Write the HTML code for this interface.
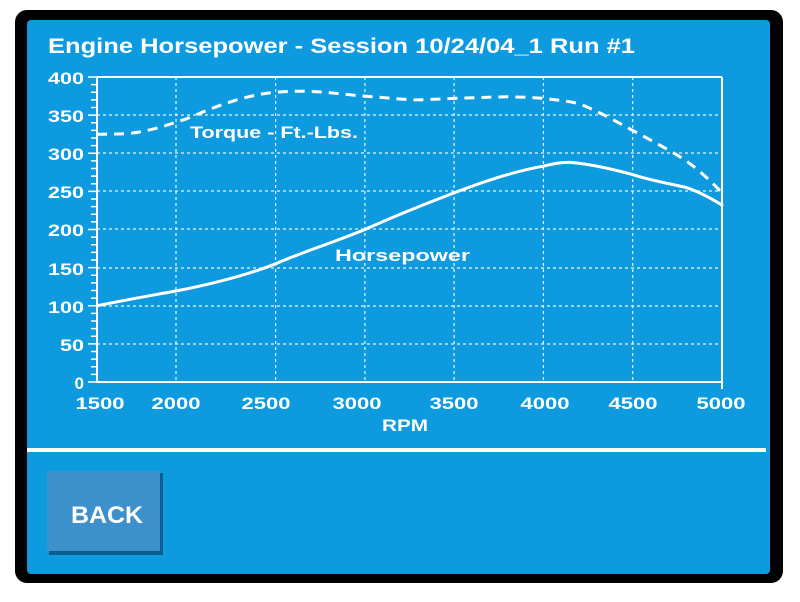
<!DOCTYPE html>
<html><head><meta charset="utf-8"><style>
html,body{margin:0;padding:0;background:#fff;width:800px;height:602px;overflow:hidden}
svg{display:block}
text{font-family:"Liberation Sans",Arial,sans-serif;font-weight:bold;fill:#fff}
</style></head><body>
<svg width="800" height="602" viewBox="0 0 800 602">
<rect x="15" y="10" width="768" height="573" rx="12" fill="#000"/>
<rect x="27" y="20" width="743" height="554" rx="4" fill="#0d9ade"/>
<text x="48" y="53" font-size="21" textLength="587" lengthAdjust="spacingAndGlyphs">Engine Horsepower - Session 10/24/04_1 Run #1</text>
<g stroke="#fff" stroke-width="1.2" stroke-dasharray="3,3" fill="none" opacity="0.9">
<line x1="97" y1="115" x2="722" y2="115"/><line x1="97" y1="153" x2="722" y2="153"/>
<line x1="97" y1="191" x2="722" y2="191"/><line x1="97" y1="229" x2="722" y2="229"/>
<line x1="97" y1="268" x2="722" y2="268"/><line x1="97" y1="306" x2="722" y2="306"/>
<line x1="97" y1="344" x2="722" y2="344"/>
<line x1="176" y1="77" x2="176" y2="382"/><line x1="275.6" y1="77" x2="275.6" y2="382"/>
<line x1="364.9" y1="77" x2="364.9" y2="382"/><line x1="454.1" y1="77" x2="454.1" y2="382"/>
<line x1="543.4" y1="77" x2="543.4" y2="382"/><line x1="632.7" y1="77" x2="632.7" y2="382"/>
</g>
<g stroke="#fff" stroke-width="2" fill="none">
<line x1="97" y1="77" x2="722" y2="77"/>
<line x1="97" y1="77" x2="97" y2="383"/>
<line x1="96" y1="382" x2="723" y2="382"/>
<line x1="722" y1="77" x2="722" y2="389"/>
</g>
<g stroke="#fff" stroke-width="1.5" id="ticks"></g>
<g fill="none" stroke="#fff" stroke-width="3" stroke-linejoin="round" stroke-linecap="round">
<path d="M97,305.75 C130,299 160,294 186.3,289 C215,283 250,274 275.6,263.8 C305,251 335,242 364.9,229.5 C395,216 425,204 454.1,192.9 C485,181 515,171 543.4,166.2 C555,163 562,162 570.2,162.4 C590,164 612,169 632.7,174.6 C652,181 672,184 686.3,187.6 C700,192 712,199 722,205.1"/>
<path stroke-dasharray="10,7" stroke-linecap="butt" d="M97,134.2 C115,134 125,134 132.7,133 C155,130 170,124 186.3,118.9 C205,111 222,104 239.9,99 C255,95 265,93 275.6,92.3 C290,91 300,91 311.3,91.5 C330,92 348,95 364.9,96.1 C390,98 405,100 418.4,99.9 C432,99.5 445,98.6 454.1,98.4 C480,97.5 495,97 507.7,96.8 C522,97 535,97.6 543.4,98.4 C557,100 568,101 579.1,103.7 C600,112 615,121 632.7,130.4 C652,141 670,150 686.3,160.9 C700,171 712,182 722,192.9"/>
</g>
<text x="190" y="138" font-size="17" textLength="168" lengthAdjust="spacingAndGlyphs">Torque - Ft.-Lbs.</text>
<text x="335" y="261" font-size="17" textLength="135" lengthAdjust="spacingAndGlyphs">Horsepower</text>
<g font-size="17" text-anchor="end">
<text x="84" y="84" textLength="36" lengthAdjust="spacingAndGlyphs">400</text><text x="84" y="122" textLength="36" lengthAdjust="spacingAndGlyphs">350</text><text x="84" y="160" textLength="36" lengthAdjust="spacingAndGlyphs">300</text>
<text x="84" y="198" textLength="36" lengthAdjust="spacingAndGlyphs">250</text><text x="84" y="236" textLength="36" lengthAdjust="spacingAndGlyphs">200</text><text x="84" y="275" textLength="36" lengthAdjust="spacingAndGlyphs">150</text>
<text x="84" y="313" textLength="36" lengthAdjust="spacingAndGlyphs">100</text><text x="84" y="351" textLength="24" lengthAdjust="spacingAndGlyphs">50</text><text x="84" y="389">0</text>
</g>
<g font-size="17" text-anchor="middle">
<text x="100" y="409" textLength="49" lengthAdjust="spacingAndGlyphs">1500</text><text x="176" y="409" textLength="49" lengthAdjust="spacingAndGlyphs">2000</text><text x="266" y="409" textLength="49" lengthAdjust="spacingAndGlyphs">2500</text>
<text x="357" y="409" textLength="49" lengthAdjust="spacingAndGlyphs">3000</text><text x="454" y="409" textLength="49" lengthAdjust="spacingAndGlyphs">3500</text><text x="545" y="409" textLength="49" lengthAdjust="spacingAndGlyphs">4000</text>
<text x="633" y="409" textLength="49" lengthAdjust="spacingAndGlyphs">4500</text><text x="721" y="409" textLength="49" lengthAdjust="spacingAndGlyphs">5000</text>
<text x="405" y="431" textLength="46" lengthAdjust="spacingAndGlyphs">RPM</text>
</g>
<rect x="27" y="448" width="739" height="4" fill="#fff"/>
<rect x="49" y="473" width="114" height="82" fill="#0a5d8f"/>
<rect x="47" y="471" width="113" height="80" fill="#3d90cc"/>
<text x="107" y="523" font-size="24" text-anchor="middle" textLength="72" lengthAdjust="spacingAndGlyphs">BACK</text>
</svg>
<script>
var g=document.getElementById('ticks'),s='';
for(var v=0;v<=400;v+=10){var y=382-v*0.7625;var l=(v%50==0)?9:6;s+='<line x1="'+(97-l)+'" y1="'+y+'" x2="97" y2="'+y+'"/>';}
g.innerHTML=s;
</script>
</body></html>
